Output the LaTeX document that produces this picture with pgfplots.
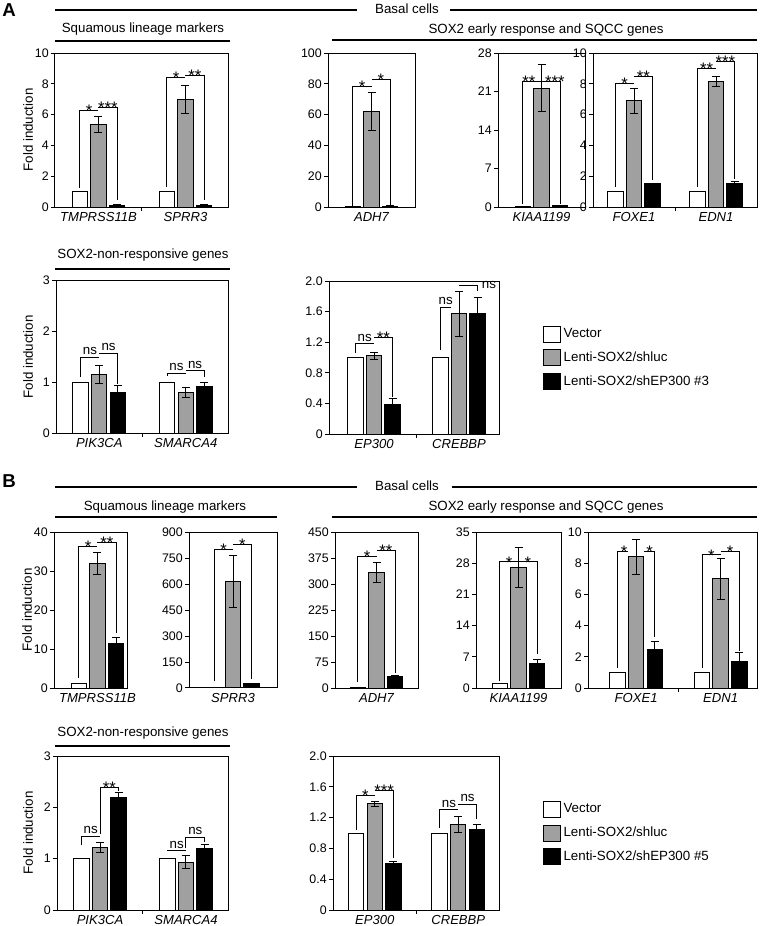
\documentclass[border=0pt]{standalone}
\usepackage{pgfplots}
\pgfplotsset{compat=1.18}
\usepackage{fontspec}
\setmainfont{Liberation Sans}
\definecolor{bargray}{RGB}{160,160,160}
\newcommand{\numfont}{\fontsize{9.3}{10}\selectfont}
\newcommand{\txtfont}{\fontsize{10}{12}\selectfont}
\newcommand{\genefont}{\fontsize{9.8}{11}\selectfont\itshape}
\pgfplotsset{
 panel/.style={scale only axis, anchor=north west, clip=false, ymin=0,
   ybar=2.4pt, bar width=11.6pt,
   axis line style={line width=0.75pt},
   tick align=outside, ytick pos=left, xtick pos=bottom, major tick length=3pt,
   ytick style={line width=0.75pt, black},
   xtick style={draw=none},
   yticklabel style={font=\numfont, inner sep=1.5pt},
   xticklabel style={font=\genefont, inner sep=1pt},
   legend image code/.code={\draw[#1] (0pt,-6pt) rectangle (12.75pt,6pt);},
   legend cell align=left,
   legend style={draw=none, fill=none, font=\txtfont, anchor=west, row sep=5pt, inner sep=0pt, outer sep=0pt},
 },
 bars/.style={draw=black, line width=0.75pt,
   error bars/y dir=both, error bars/y explicit,
   error bars/error bar style={line width=0.75pt, black},
   error bars/error mark options={rotate=90, line width=0.75pt, mark size=3pt, black}},
 vec/.style={bars, fill=white},
 shl/.style={bars, fill=bargray},
 shp/.style={bars, fill=black},
}
\tikzset{brk/.style={line width=0.75pt, black},
 st/.style={font=\fontsize{12.5}{10}\selectfont, anchor=base, yshift=-4.6pt, inner sep=0pt},
 nsl/.style={font=\txtfont, anchor=base, yshift=2pt, inner sep=0pt}}
\newcommand{\sep}[1]{\draw[line width=0.75pt] (axis cs:#1,0) -- ++(0pt,-3pt);}
% group, leg bottom, height, label, style
\newcommand{\sigL}[5]{\draw[brk] ([xshift=-14pt]axis cs:#1,#2) -- ([xshift=-14pt]axis cs:#1,#3) -- (axis cs:#1,#3);
 \node[#5] at ([xshift=-7pt]axis cs:#1,#3) {#4};}
% group, height, leg bottom, label, style
\newcommand{\sigR}[5]{\draw[brk] (axis cs:#1,#2) -- ([xshift=14pt]axis cs:#1,#2) -- ([xshift=14pt]axis cs:#1,#3);
 \node[#5] at ([xshift=7pt]axis cs:#1,#2) {#4};}
\begin{document}
\begin{tikzpicture}
\useasboundingbox (0,0) rectangle (570pt,-694.5pt);
% ================= A =================
\begin{axis}[panel, at={(41.25pt,-39.75pt)}, width=130.5pt, height=115.5pt,
  xmin=-0.5, xmax=1.5, ymax=10, ytick={0,2,4,6,8,10}, yticklabels={0,2,4,6,8,10},
  xtick={0,1}, xticklabels={TMPRSS11B,SPRR3}]
\addplot[vec] coordinates {(0,1) +- (0,0) (1,1) +- (0,0)};
\addplot[shl] coordinates {(0,5.35) +- (0,0.5) (1,7.0) +- (0,0.9)};
\addplot[shp] coordinates {(0,0.12) +- (0,0.03) (1,0.12) +- (0,0.02)};
\sep{0.5}
\sigL{0}{1.25}{6.26}{*}{st}
\sigR{0}{6.48}{0.45}{***}{st}
\sigL{1}{1.3}{8.43}{*}{st}
\sigR{1}{8.52}{0.45}{**}{st}
\end{axis}
\begin{axis}[panel, at={(246pt,-39.75pt)}, width=65.25pt, height=115.5pt,
  xmin=-0.5, xmax=0.5, ymax=100, ytick={0,20,40,60,80,100}, yticklabels={0,20,40,60,80,100},
  xtick={0}, xticklabels={ADH7}]
\addplot[vec] coordinates {(0,0.5) +- (0,0)};
\addplot[shl] coordinates {(0,62) +- (0,12.5)};
\addplot[shp] coordinates {(0,0.6) +- (0,0.2)};
\sigL{0}{0.8}{78.3}{*}{st}
\sigR{0}{82.6}{1}{*}{st}
\end{axis}
\begin{axis}[panel, at={(373.5pt,-39.75pt)}, width=65.25pt, height=115.5pt,
  xmin=-0.5, xmax=0.5, ymax=28, ytick={0,7,14,21,28}, yticklabels={0,7,14,21,28},
  xtick={0}, xticklabels={KIAA1199}]
\addplot[vec] coordinates {(0,0.15) +- (0,0)};
\addplot[shl] coordinates {(0,21.6) +- (0,4.3)};
\addplot[shp] coordinates {(0,0.25) +- (0,0.1)};
\draw[brk] ([xshift=-14pt]axis cs:0,0.5) -- ([xshift=-14pt]axis cs:0,22.9) -- (axis cs:0,22.9);
\node[st] at ([xshift=-9.5pt]axis cs:0,22.9) {**};
\draw[brk] (axis cs:0,22.9) -- ([xshift=14pt]axis cs:0,22.9) -- ([xshift=14pt]axis cs:0,0.5);
\node[st] at ([xshift=10pt]axis cs:0,22.9) {***};
\end{axis}
\begin{axis}[panel, at={(444.75pt,-39.75pt)}, width=123pt, height=115.5pt,
  xmin=-0.5, xmax=1.5, ymax=10, ytick={0,2,4,6,8,10}, yticklabels={0,2,4,6,8,10},
  xtick={0,1}, xticklabels={FOXE1,EDN1}]
\addplot[vec] coordinates {(0,1) +- (0,0) (1,1) +- (0,0)};
\addplot[shl] coordinates {(0,6.9) +- (0,0.8) (1,8.15) +- (0,0.3)};
\addplot[shp] coordinates {(0,1.5) +- (0,0.04) (1,1.55) +- (0,0.1)};
\sep{0.5}
\sigL{0}{1.3}{8.04}{*}{st}
\sigR{0}{8.48}{1.75}{**}{st}
\sigL{1}{1.3}{9.0}{**}{st}
\sigR{1}{9.46}{1.85}{***}{st}
\end{axis}
\begin{axis}[panel, at={(42pt,-210pt)}, width=129.75pt, height=114.75pt,
  xmin=-0.5, xmax=1.5, ymax=3, ytick={0,1,2,3}, yticklabels={0,1,2,3},
  xtick={0,1}, xticklabels={PIK3CA,SMARCA4}]
\addplot[vec] coordinates {(0,1) +- (0,0) (1,1) +- (0,0)};
\addplot[shl] coordinates {(0,1.15) +- (0,0.17) (1,0.8) +- (0,0.1)};
\addplot[shp] coordinates {(0,0.8) +- (0,0.13) (1,0.92) +- (0,0.07)};
\sep{0.5}
\sigL{0}{1.1}{1.49}{ns}{nsl}
\sigR{0}{1.56}{0.97}{ns}{nsl}
\sigL{1}{1.12}{1.17}{ns}{nsl}
\sigR{1}{1.22}{1.1}{ns}{nsl}
\end{axis}
\begin{axis}[panel, at={(246.75pt,-210.75pt)}, width=127.5pt, height=114.75pt,
  xmin=-0.53, xmax=1.47, ymax=2, ytick={0,0.4,0.8,1.2,1.6,2.0}, yticklabels={0,0.4,0.8,1.2,1.6,2.0},
  xtick={0,1}, xticklabels={EP300,CREBBP},
  legend style={at={(1.259,0.497)}}]
\addplot[vec] coordinates {(0,1) +- (0,0) (1,1) +- (0,0)};
\addplot[shl] coordinates {(0,1.02) +- (0,0.05) (1,1.57) +- (0,0.29)};
\addplot[shp] coordinates {(0,0.39) +- (0,0.08) (1,1.57) +- (0,0.22)};
\legend{Vector,Lenti-SOX2/shluc,Lenti-SOX2/shEP300 \#3}
\sep{0.5}
\sigL{0}{1.06}{1.18}{ns}{nsl}
\sigR{0}{1.26}{0.49}{**}{st}
\draw[brk] ([xshift=-14pt]axis cs:1,1.1) -- ([xshift=-14pt]axis cs:1,1.66) -- ([xshift=-6pt]axis cs:1,1.66);
\node[nsl] at ([xshift=-10pt]axis cs:1,1.66) {ns};
\draw[brk] (axis cs:1,1.94) -- ([xshift=14pt]axis cs:1,1.94) -- ([xshift=14pt]axis cs:1,1.87);
\node[font=\txtfont, anchor=base west, inner sep=0pt, yshift=-2pt] at ([xshift=17pt]axis cs:1,1.94) {ns};
\end{axis}
% ================= B =================
\begin{axis}[panel, at={(40.5pt,-399pt)}, width=55.5pt, height=117pt,
  xmin=-0.587, xmax=0.413, ymax=40, ytick={0,10,20,30,40}, yticklabels={0,10,20,30,40},
  xtick={0}, xticklabels={TMPRSS11B}]
\addplot[vec] coordinates {(0,1.2) +- (0,0)};
\addplot[shl] coordinates {(0,32) +- (0,2.8)};
\addplot[shp] coordinates {(0,11.3) +- (0,1.7)};
\sigL{0}{2.5}{36.2}{*}{st}
\sigR{0}{37.3}{14}{**}{st}
\end{axis}
\begin{axis}[panel, at={(141.75pt,-399pt)}, width=66pt, height=117pt,
  xmin=-0.5, xmax=0.5, ymax=900, ytick={0,150,300,450,600,750,900}, yticklabels={0,150,300,450,600,750,900},
  xtick={0}, xticklabels={SPRR3}]
\addplot[vec] coordinates {(0,1) +- (0,0)};
\addplot[shl] coordinates {(0,615) +- (0,148)};
\addplot[shp] coordinates {(0,25) +- (0,3)};
\sigL{0}{38}{801}{*}{st}
\sigR{0}{830}{50}{*}{st}
\end{axis}
\begin{axis}[panel, at={(251.25pt,-399pt)}, width=62.25pt, height=117pt,
  xmin=-0.5, xmax=0.5, ymax=450, ytick={0,75,150,225,300,375,450}, yticklabels={0,75,150,225,300,375,450},
  xtick={0}, xticklabels={ADH7}]
\addplot[vec] coordinates {(0,1) +- (0,0)};
\addplot[shl] coordinates {(0,333) +- (0,30)};
\addplot[shp] coordinates {(0,33) +- (0,2)};
\sigL{0}{16}{380}{*}{st}
\sigR{0}{398}{43}{**}{st}
\end{axis}
\begin{axis}[panel, at={(357pt,-399pt)}, width=63.75pt, height=117pt,
  xmin=-0.5, xmax=0.5, ymax=35, ytick={0,7,14,21,28,35}, yticklabels={0,7,14,21,28,35},
  xtick={0}, xticklabels={KIAA1199}]
\addplot[vec] coordinates {(0,1.0) +- (0,0)};
\addplot[shl] coordinates {(0,27) +- (0,4.5)};
\addplot[shp] coordinates {(0,5.6) +- (0,0.9)};
\sigL{0}{1.5}{28.3}{*}{st}
\sigR{0}{28.3}{7.6}{*}{st}
\end{axis}
\begin{axis}[panel, at={(441pt,-399pt)}, width=126.75pt, height=117pt,
  xmin=-0.57, xmax=1.43, ymax=10, ytick={0,2,4,6,8,10}, yticklabels={0,2,4,6,8,10},
  xtick={0,1}, xticklabels={FOXE1,EDN1}]
\addplot[vec] coordinates {(0,1) +- (0,0) (1,1) +- (0,0)};
\addplot[shl] coordinates {(0,8.4) +- (0,1.15) (1,7.0) +- (0,1.3)};
\addplot[shp] coordinates {(0,2.45) +- (0,0.55) (1,1.7) +- (0,0.6)};
\sep{0.5}
\draw[brk] ([xshift=-14pt]axis cs:0,1.3) -- ([xshift=-14pt]axis cs:0,8.75) -- ([xshift=-6pt]axis cs:0,8.75);
\node[st] at ([xshift=-9pt]axis cs:0,8.75) {*};
\draw[brk] ([xshift=6pt]axis cs:0,8.75) -- ([xshift=14pt]axis cs:0,8.75) -- ([xshift=14pt]axis cs:0,3.24);
\node[st] at ([xshift=10pt]axis cs:0,8.75) {*};
\sigL{1}{1.3}{8.53}{*}{st}
\sigR{1}{8.75}{2.38}{*}{st}
\end{axis}
\begin{axis}[panel, at={(42.75pt,-567pt)}, width=129pt, height=115.5pt,
  xmin=-0.5, xmax=1.5, ymax=3, ytick={0,1,2,3}, yticklabels={0,1,2,3},
  xtick={0,1}, xticklabels={PIK3CA,SMARCA4}]
\addplot[vec] coordinates {(0,1) +- (0,0) (1,1) +- (0,0)};
\addplot[shl] coordinates {(0,1.22) +- (0,0.1) (1,0.93) +- (0,0.13)};
\addplot[shp] coordinates {(0,2.2) +- (0,0.08) (1,1.19) +- (0,0.08)};
\sep{0.5}
\sigL{0}{1.26}{1.44}{ns}{nsl}
\draw[brk] (axis cs:0,1.49) -- (axis cs:0,2.38) -- ([xshift=14pt]axis cs:0,2.38) -- ([xshift=14pt]axis cs:0,2.32);
\node[st] at ([xshift=7pt]axis cs:0,2.38) {**};
\draw[brk] ([xshift=-14pt]axis cs:1,1.15) -- (axis cs:1,1.15);
\node[nsl] at ([xshift=-7pt]axis cs:1,1.15) {ns};
\draw[brk] (axis cs:1,1.2) -- (axis cs:1,1.41) -- ([xshift=14pt]axis cs:1,1.41) -- ([xshift=14pt]axis cs:1,1.33);
\node[nsl] at ([xshift=7pt]axis cs:1,1.41) {ns};
\end{axis}
\begin{axis}[panel, at={(249.75pt,-567pt)}, width=125.25pt, height=115.5pt,
  xmin=-0.5, xmax=1.5, ymax=2, ytick={0,0.4,0.8,1.2,1.6,2.0}, yticklabels={0,0.4,0.8,1.2,1.6,2.0},
  xtick={0,1}, xticklabels={EP300,CREBBP},
  legend style={at={(1.257,0.5)}}]
\addplot[vec] coordinates {(0,1) +- (0,0) (1,1) +- (0,0)};
\addplot[shl] coordinates {(0,1.38) +- (0,0.03) (1,1.11) +- (0,0.1)};
\addplot[shp] coordinates {(0,0.61) +- (0,0.02) (1,1.04) +- (0,0.07)};
\legend{Vector,Lenti-SOX2/shluc,Lenti-SOX2/shEP300 \#5}
\sep{0.5}
\sigL{0}{1.04}{1.49}{*}{st}
\sigR{0}{1.555}{0.67}{***}{st}
\sigL{1}{1.06}{1.30}{ns}{nsl}
\sigR{1}{1.37}{1.18}{ns}{nsl}
\end{axis}
% ================= annotations =================
\begin{scope}[x=0.75pt,y=-0.75pt, every node/.style={font=\txtfont}]
\node[font=\bfseries\fontsize{14}{14}\selectfont] at (9,10) {A};
\draw[line width=0.9pt] (55,10) -- (357,10) (450,10) -- (757,10);
\node at (407,9) {Basal cells};
\node at (143,29) {Squamous lineage markers};
\draw[line width=0.9pt] (55,41) -- (230,41);
\node at (546,30) {SOX2 early response and SQCC genes};
\draw[line width=0.9pt] (332,40) -- (757,40);
\node at (143,255) {SOX2-non-responsive genes};
\draw[line width=0.9pt] (55,269) -- (230,269);
\node[rotate=90] at (28,130) {Fold induction};
\node[rotate=90] at (28,357) {Fold induction};
\node[font=\bfseries\fontsize{14}{14}\selectfont] at (9,481) {B};
\draw[line width=0.9pt] (55,487) -- (357,487) (452,487) -- (757,487);
\node at (407,486) {Basal cells};
\node at (165,507) {Squamous lineage markers};
\draw[line width=0.9pt] (55,517) -- (277,517);
\node at (546,507) {SOX2 early response and SQCC genes};
\draw[line width=0.9pt] (332,517) -- (757,517);
\node at (143,733) {SOX2-non-responsive genes};
\draw[line width=0.9pt] (55,746) -- (230,746);
\node[rotate=90] at (27,610) {Fold induction};
\node[rotate=90] at (28,833) {Fold induction};
\end{scope}
\end{tikzpicture}
\end{document}
